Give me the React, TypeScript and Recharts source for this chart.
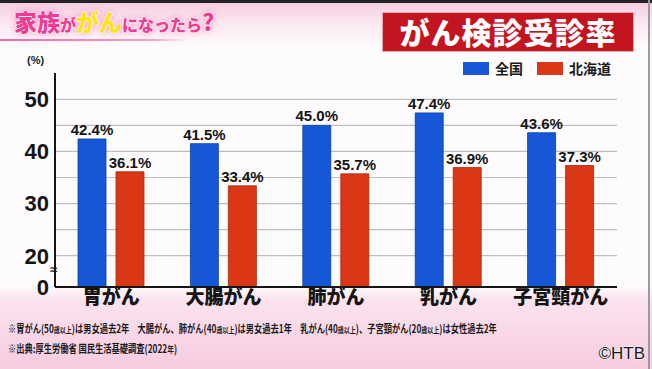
import React from "react";
import { BarChart, Bar, XAxis, YAxis, CartesianGrid, Legend, LabelList } from "recharts";

const categories = ["胃がん", "大腸がん", "肺がん", "乳がん", "子宮頸がん"];
const national = [42.4, 41.5, 45.0, 47.4, 43.6];
const hokkaido = [36.1, 33.4, 35.7, 36.9, 37.3];
const yTicks = [0, 20, 25, 30, 35, 40, 45, 50];
const yLabels = ["0", "20", "30", "40", "50"];

const BLUE = "#1657d8";
const RED = "#da3717";
const NUM_FONT = "'Liberation Sans', Arial, sans-serif";
const JP_FONT = "'Noto Sans CJK JP', 'Noto Sans', sans-serif";

// broken axis: 0-20 squeezed, 20+ linear
const toAxis = (v: number) => (v <= 20 ? v * 0.3 : v - 14);
const fromAxis = (t: number) => (t <= 6 ? Math.round(t / 0.3) : Math.round(t + 14));

const data = categories.map((name, i) => ({ name, national: national[i], hokkaido: hokkaido[i] }));

function renderLegend() {
  const items = [
    { label: "全国", color: BLUE },
    { label: "北海道", color: RED },
  ];
  return (
    <div style={{ display: "flex", alignItems: "center", gap: 14, fontFamily: JP_FONT, fontWeight: 700 }}>
      {items.map((it) => (
        <div key={it.label} style={{ display: "flex", alignItems: "center", gap: 6 }}>
          <span style={{ width: 26, height: 13, background: it.color, display: "inline-block" }} />
          <span style={{ fontSize: 14, color: "#1a1a1a" }}>{it.label}</span>
        </div>
      ))}
    </div>
  );
}

const noteStyle: React.CSSProperties = {
  position: "absolute",
  left: 8,
  fontFamily: JP_FONT,
  fontWeight: 700,
  fontSize: 11,
  color: "#1a1a1a",
  whiteSpace: "nowrap",
  transform: "scaleX(0.75)",
  transformOrigin: "left top",
};

export default function App() {
  return (
    <div
      style={{
        position: "fixed",
        left: 0,
        top: 0,
        width: 652,
        height: 369,
        overflow: "hidden",
        background: "linear-gradient(180deg, #f6c9de 0px, #fbe7f0 22px, #fdfbfc 48px, #fdfbfc 286px, #fbe3ee 300px, #f7cbe0 369px)",
      }}
    >
      <div style={{ position: "absolute", left: 0, top: 0, width: 652, height: 3, background: "#222" }} />
      <div style={{ position: "absolute", right: 2, top: 0, width: 2, height: 369, background: "#9a9aa3" }} />
      {/* title */}
      <div
        style={{
          position: "absolute",
          left: 14,
          top: 4,
          fontFamily: JP_FONT,
          fontWeight: 900,
          color: "#ec3d95",
          textShadow: "0 0 1px #fff, 0 0 2px #fff, 0 0 3px #fff, 0 0 6px #f06aa8",
          whiteSpace: "nowrap",
        }}
      >
        <span style={{ fontSize: 23 }}>家族</span>
        <span style={{ fontSize: 16 }}>が</span>
        <span style={{ fontSize: 23, color: "#ffe21a" }}>がん</span>
        <span style={{ fontSize: 16 }}>になったら</span>
        <span style={{ fontSize: 23 }}>?</span>
      </div>
      <div
        style={{
          position: "absolute",
          left: 0,
          top: 39,
          width: 190,
          height: 2,
          background: "linear-gradient(90deg, #ee6aa7, #f3a3c8 80%, rgba(255,255,255,0))",
        }}
      />
      <div
        style={{
          position: "absolute",
          left: 382,
          top: 12,
          width: 252,
          height: 40,
          background: "#c3151f",
          border: "1px solid #e9a9ae",
          boxSizing: "border-box",
          color: "#fff",
          fontFamily: JP_FONT,
          fontWeight: 900,
          fontSize: 30,
          lineHeight: "37px",
          textAlign: "center",
          letterSpacing: 1,
        }}
      >
        がん検診受診率
      </div>
      <div style={{ position: "absolute", left: 27, top: 54, fontFamily: NUM_FONT, fontWeight: 700, fontSize: 11, color: "#222" }}>
        (%)
      </div>
      <div style={{ position: "absolute", left: 50, top: 262, fontFamily: NUM_FONT, fontWeight: 700, fontSize: 13, color: "#222" }}>
        ≈
      </div>

      <div style={{ position: "absolute", left: 0, top: 0 }}>
        <BarChart
          width={652}
          height={369}
          data={data}
          margin={{ top: 53, right: 35, left: 0, bottom: 52 }}
          barSize={28}
          barGap={10}
        >
          <CartesianGrid
            vertical={false}
            horizontalValues={yTicks.map(toAxis)}
            stroke="#bdbdc2"
            strokeWidth={1.2}
          />
          <XAxis
            dataKey="name"
            height={30}
            tickSize={0}
            tickMargin={4}
            axisLine={{ stroke: "#151515", strokeWidth: 2 }}
            tick={{ fontSize: 19, fontWeight: 900, fill: "#141414", fontFamily: JP_FONT }}
          />
          <YAxis
            width={55}
            type="number"
            domain={[0, 41.05]}
            ticks={yTicks.map(toAxis)}
            interval={0}
            tickSize={0}
            tickMargin={6}
            axisLine={{ stroke: "#151515", strokeWidth: 2 }}
            tickFormatter={(t: number) => {
              const v = String(fromAxis(t));
              return yLabels.includes(v) ? v : "";
            }}
            tick={{ fontSize: 22, fontWeight: 700, fill: "#141414", fontFamily: NUM_FONT }}
          />
          <Legend
            verticalAlign="top"
            align="left"
            content={renderLegend}
            wrapperStyle={{ top: 58, left: 463, width: "auto" }}
          />
          <Bar
            dataKey={(d: any) => toAxis(d.national)}
            name="全国"
            fill={BLUE}
            stroke="#0e3fa6"
            strokeWidth={0.8}
            isAnimationActive={false}
          >
            <LabelList
              dataKey="national"
              position="top"
              offset={4}
              formatter={(v: any) => `${Number(v).toFixed(1)}%`}
              style={{ fontSize: 15, fontWeight: 700, fill: "#141414", fontFamily: NUM_FONT }}
            />
          </Bar>
          <Bar
            dataKey={(d: any) => toAxis(d.hokkaido)}
            name="北海道"
            fill={RED}
            stroke="#a82408"
            strokeWidth={0.8}
            isAnimationActive={false}
          >
            <LabelList
              dataKey="hokkaido"
              position="top"
              offset={4}
              formatter={(v: any) => `${Number(v).toFixed(1)}%`}
              style={{ fontSize: 15, fontWeight: 700, fill: "#141414", fontFamily: NUM_FONT }}
            />
          </Bar>
        </BarChart>
      </div>

      <div style={{ ...noteStyle, top: 320 }}>
        ※胃がん(50<span style={{ fontSize: 8 }}>歳以上</span>)は男女過去2年　大腸がん、肺がん(40<span style={{ fontSize: 8 }}>歳以上</span>)は男女過去1年　乳がん(40<span style={{ fontSize: 8 }}>歳以上</span>)、子宮頸がん(20<span style={{ fontSize: 8 }}>歳以上</span>)は女性過去2年
      </div>
      <div style={{ ...noteStyle, top: 340 }}>
        ※出典:厚生労働省 国民生活基礎調査(2022<span style={{ fontSize: 9 }}>年</span>)
      </div>
      <div
        style={{
          position: "absolute",
          right: 7,
          top: 344,
          fontFamily: NUM_FONT,
          fontSize: 17,
          color: "#1a1a1a",
          textShadow: "0 0 2px #fff, 0 0 2px #fff",
        }}
      >
        ©HTB
      </div>
    </div>
  );
}
